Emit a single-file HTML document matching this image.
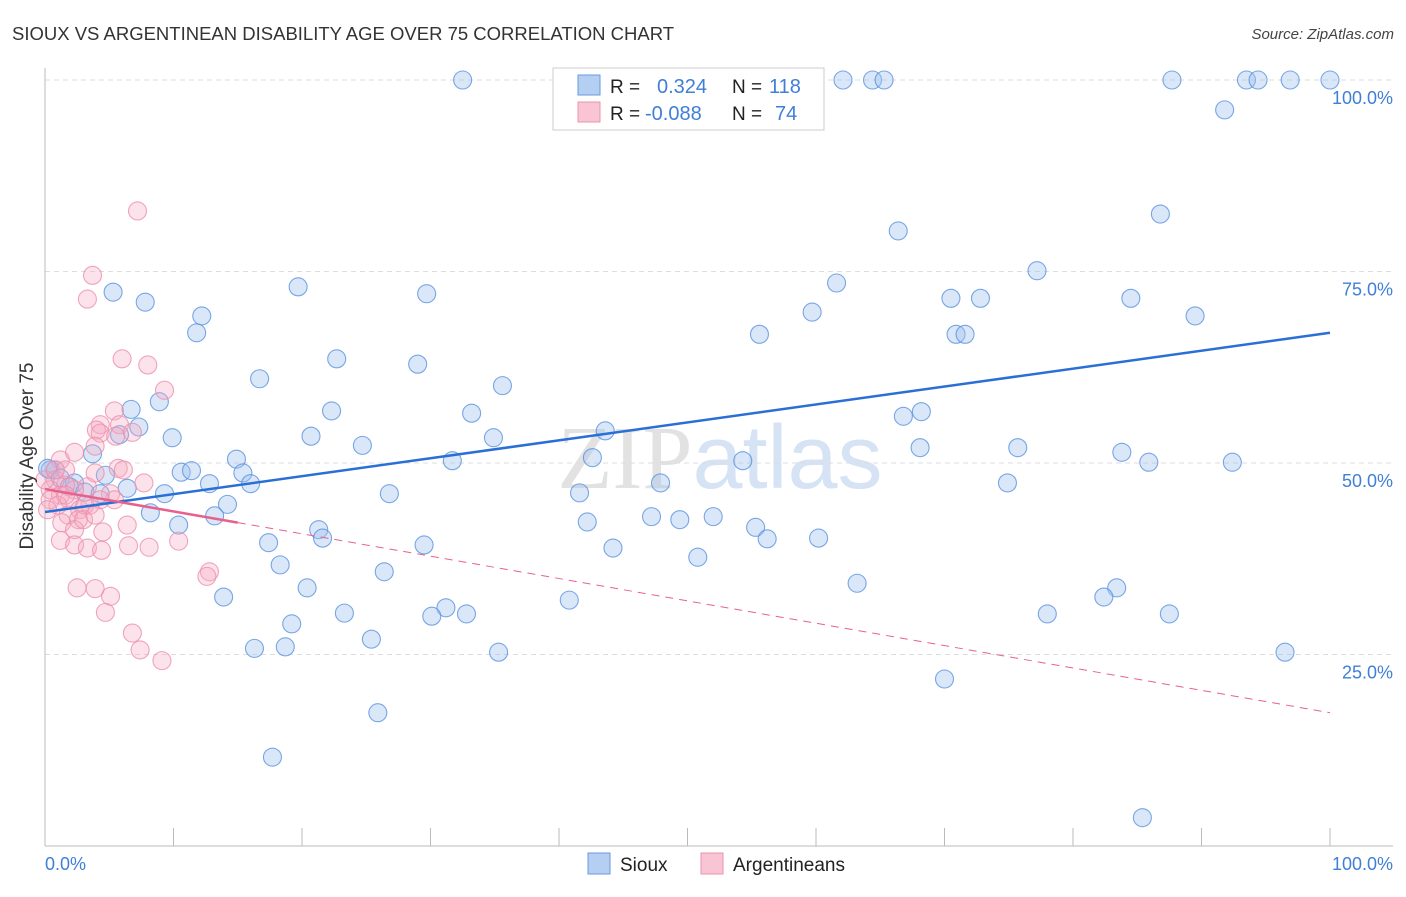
<!DOCTYPE html>
<html><head><meta charset="utf-8"><style>
body{margin:0;background:#fff;font-family:"Liberation Sans",sans-serif}
</style></head><body>
<svg width="1406" height="892" xmlns="http://www.w3.org/2000/svg" id="svg" font-family="Liberation Sans, sans-serif">
<text x="12" y="40" font-size="18.5" fill="#333">SIOUX VS ARGENTINEAN DISABILITY AGE OVER 75 CORRELATION CHART</text>
<text x="1394" y="39" font-size="15" fill="#444" font-style="italic" text-anchor="end">Source: ZipAtlas.com</text>
<text x="720" y="488" font-size="90" text-anchor="middle"><tspan font-family="Liberation Serif, serif" fill="#e2e2e2">ZIP</tspan><tspan fill="#d5e3f5">atlas</tspan></text>
<g id="grid"></g><g id="axes"></g><g id="pts"></g><g id="trend"></g>
<text transform="translate(33,456) rotate(-90)" font-size="19" fill="#333" text-anchor="middle">Disability Age Over 75</text>
<g>
<rect x="553" y="68" width="271" height="62" fill="#fff" stroke="#ccc"/>
<rect x="578" y="75" width="22" height="20" fill="#b5cff2" stroke="#6a9ae0"/>
<rect x="578" y="102" width="22" height="20" fill="#f9c5d4" stroke="#ea94ad"/>
<text x="610" y="93" font-size="19" fill="#222">R =</text><text x="657" y="93" font-size="20" fill="#3f7fd6">0.324</text>
<text x="732" y="93" font-size="19" fill="#222">N =</text><text x="769" y="93" font-size="20" fill="#3f7fd6">118</text>
<text x="610" y="120" font-size="19" fill="#222">R =</text><text x="645" y="120" font-size="20" fill="#3f7fd6">-0.088</text>
<text x="732" y="120" font-size="19" fill="#222">N =</text><text x="775" y="120" font-size="20" fill="#3f7fd6">74</text>
</g>
<g>
<rect x="588" y="853" width="22" height="21" fill="#b5cff2" stroke="#6a9ae0"/>
<text x="620" y="871" font-size="19" fill="#222">Sioux</text>
<rect x="701" y="853" width="22" height="21" fill="#f9c5d4" stroke="#ea94ad"/>
<text x="733" y="871" font-size="19" fill="#222">Argentineans</text>
</g>
</svg>
<script>
const yTicks=[25,50,75,100];
const yTickLabels=["25.0%","50.0%","75.0%","100.0%"];
const xTicks=[0,10,20,30,40,50,60,70,80,90,100];
const xEndLabels=["0.0%","100.0%"];
const siouxX=[32.5,45.4,52.0,62.1,64.4,65.3,87.7,93.5,94.4,96.9,100,91.8,86.8,66.4,77.2,61.6,70.5,72.8,84.5,59.7,89.5,5.3,7.8,12.2,11.8,19.7,29.7,55.6,70.9,71.6,22.7,29.0,16.7,35.6,8.9,6.7,22.3,33.2,68.2,66.8,7.3,5.8,43.6,9.9,20.7,34.9,24.7,75.7,68.1,83.8,3.7,14.9,42.6,31.7,54.3,85.9,92.4,10.6,11.4,15.4,4.7,0.8,12.8,16.0,47.9,74.9,9.3,6.4,26.8,41.6,14.2,8.2,13.2,47.2,49.4,52.0,42.2,55.3,10.4,21.3,21.6,56.2,60.2,17.4,29.5,44.2,50.8,18.3,26.4,63.2,20.4,83.4,13.9,82.4,40.8,31.2,23.3,30.1,32.8,78.0,87.5,19.2,25.4,16.3,18.7,35.3,96.5,70.0,25.9,17.7,85.4,0.4,0.2,1.2,2.3,1.9,3.1,4.3];
const siouxY=[100,100,100,100,100,100,100,100,100,100,100,96.1,82.5,80.3,75.1,73.5,71.5,71.5,71.5,69.7,69.2,72.3,71.0,69.2,67.0,73.0,72.1,66.8,66.8,66.8,63.6,62.9,61.0,60.1,58.0,57.0,56.8,56.5,56.7,56.1,54.7,53.7,54.2,53.3,53.5,53.3,52.3,52.0,52.0,51.4,51.2,50.5,50.7,50.3,50.3,50.1,50.1,48.8,49.0,48.7,48.4,49.1,47.3,47.3,47.4,47.4,46.0,46.7,46.0,46.1,44.6,43.5,43.1,43.0,42.6,43.0,42.3,41.6,41.9,41.3,40.2,40.1,40.2,39.6,39.3,38.9,37.7,36.7,35.8,34.3,33.7,33.7,32.5,32.5,32.1,31.1,30.4,30.0,30.3,30.3,30.3,29.0,27.0,25.8,26.0,25.3,25.3,21.8,17.4,11.6,3.7,49.1,49.3,48.0,47.4,46.9,46.2,46.0];
const argX=[7.2,3.7,3.3,6.0,8.0,9.3,5.4,4.3,4.0,5.8,4.3,5.5,6.8,3.9,1.2,2.3,5.7,6.1,7.7,3.9,3.3,5.1,5.4,2.3,1.6,0.8,0.4,1.2,1.9,2.7,3.5,4.3,1.0,1.8,2.6,3.1,1.3,2.3,3.0,3.9,1.2,2.3,3.3,4.5,6.4,4.4,6.5,8.1,10.4,12.8,12.6,2.5,3.9,5.1,4.7,6.8,7.4,9.1,0,0.4,0.8,1.6,0.2,1.6];
const argY=[82.9,74.5,71.4,63.6,62.8,59.5,56.8,55.0,54.3,55.0,53.9,53.5,54.0,52.2,50.4,51.4,49.3,49.1,47.4,48.7,46.9,46.0,45.2,46.5,47.1,47.8,46.5,45.8,45.2,43.9,44.5,45.2,44.5,43.2,42.6,44.5,42.2,41.3,42.6,43.2,39.9,39.3,38.9,41.0,41.9,38.6,39.2,39.0,39.8,35.8,35.2,33.7,33.6,32.6,30.5,27.8,25.6,24.2,47.8,45.2,49.1,49.1,43.9,45.8];
const siouxTrend=[43.6,67.0];
const argTrend=[46.6,17.4];
const NS="http://www.w3.org/2000/svg";
const X=v=>45+v*12.85, Y=v=>846-v*7.66;
function mk(t,a,p){const e=document.createElementNS(NS,t);for(const k in a)e.setAttribute(k,a[k]);document.getElementById(p).appendChild(e);return e;}
yTicks.forEach((t,i)=>{
 const l=mk('line',{x1:45,x2:1393,y1:Y(t),y2:Y(t),stroke:'#ddd','stroke-dasharray':'5,4'},'grid');
 
 
 const tx=mk('text',{x:1393,y:Y(t)+24,'font-size':18,fill:'#3f7fd6','text-anchor':'end'},'grid');
 tx.textContent=yTickLabels[i];
 
 
});
let a=mk('line',{x1:45,x2:45,y1:68,y2:846,stroke:'#bbb'},'axes');


a=mk('line',{x1:45,x2:1393,y1:846,y2:846,stroke:'#bbb'},'axes');


xTicks.forEach(t=>{const l=mk('line',{x1:X(t),x2:X(t),y1:828,y2:846,stroke:'#bbb'},'axes');
 
 });
[[0,'start',45],[100,'end',1393]].forEach((d,i)=>{const tx=mk('text',{x:d[2],y:870,'font-size':18,fill:'#3f7fd6','text-anchor':d[1]},'axes');tx.textContent=xEndLabels[i];
 
 });
siouxX.forEach((x,i)=>{const c=mk('circle',{cx:X(x),cy:Y(siouxY[i]),r:9,fill:'rgba(160,195,240,0.4)',stroke:'rgba(80,140,220,0.75)','stroke-width':1.1},'pts');
 
 });
argX.forEach((x,i)=>{const c=mk('circle',{cx:X(x),cy:Y(argY[i]),r:9,fill:'rgba(245,170,195,0.33)',stroke:'rgba(236,143,172,0.8)','stroke-width':1.1},'pts');
 
 });
let t=mk('line',{x1:X(0),y1:Y(siouxTrend[0]),x2:X(100),y2:Y(siouxTrend[1]),stroke:'#2a6fd6','stroke-width':2.5},'trend');


const pAt=v=>argTrend[0]+(argTrend[1]-argTrend[0])*v/100;
t=mk('line',{x1:X(0),y1:Y(pAt(0)),x2:X(15),y2:Y(pAt(15)),stroke:'#e8618d','stroke-width':2.5},'trend');


t=mk('line',{x1:X(15),y1:Y(pAt(15)),x2:X(100),y2:Y(pAt(100)),stroke:'#e8618d','stroke-width':1,'stroke-dasharray':'8,6'},'trend');


</script>
</body></html>
